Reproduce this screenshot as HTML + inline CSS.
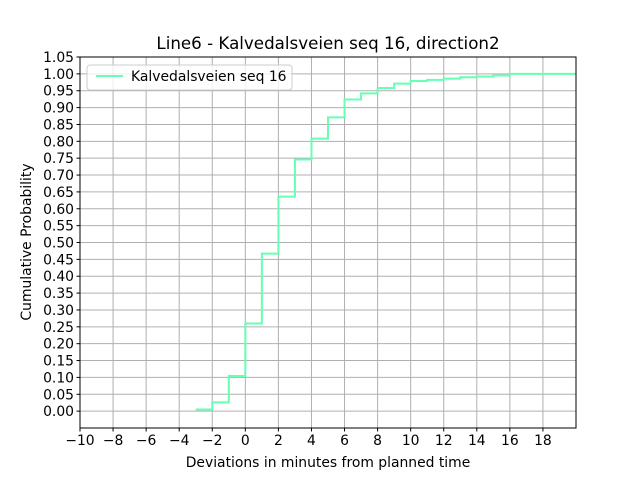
<!DOCTYPE html>
<html><head><meta charset="utf-8"><style>
body{margin:0;background:#fff;font-family:"Liberation Sans","DejaVu Sans",sans-serif;}
</style></head><body>
<svg width="640" height="480" xmlns="http://www.w3.org/2000/svg" font-family="DejaVu Sans, Liberation Sans, sans-serif">
<rect width="640" height="480" fill="#fff"/>
<g id="grid"></g>
<g id="ticks" font-size="13.9" fill="#000"></g>
<path id="line" fill="none" stroke="#66ffb3" stroke-width="2"/>
<rect x="80" y="57" width="496" height="371" fill="none" stroke="#000" stroke-width="1"/>
<text x="328" y="49" text-anchor="middle" font-size="16.7">Line6 - Kalvedalsveien seq 16, direction2</text>
<text x="328" y="467" text-anchor="middle" font-size="13.9">Deviations in minutes from planned time</text>
<text transform="translate(31,242) rotate(-90)" text-anchor="middle" font-size="13.9">Cumulative Probability</text>
<g>
<rect x="87" y="65" width="205" height="25" rx="3" fill="#fff" fill-opacity="0.8" stroke="#ccc"/>
<line x1="96" y1="76" x2="123" y2="76" stroke="#66ffb3" stroke-width="2"/>
<text x="131" y="81" font-size="13.9">Kalvedalsveien seq 16</text>
</g>
</svg>
<script>
const xs=[-3,-2,-1,0,1,2,3,4,5,6,7,8,9,10,11,12,13,14,15,16];
const ys=[0.005,0.026,0.104,0.26,0.467,0.636,0.746,0.808,0.871,0.924,0.942,0.958,0.971,0.979,0.982,0.986,0.99,0.992,0.995,1.0];
const xTicks=[-10,-8,-6,-4,-2,0,2,4,6,8,10,12,14,16,18];
const yTicks=[0,0.05,0.1,0.15,0.2,0.25,0.3,0.35,0.4,0.45,0.5,0.55,0.6,0.65,0.7,0.75,0.8,0.85,0.9,0.95,1.0,1.05];
const xMin=-10,xMax=20,yMin=-0.05,yMax=1.05,L=80,R=576,T=57,B=428;
const X=v=>L+(v-xMin)/(xMax-xMin)*(R-L);
const Y=v=>B-(v-yMin)/(yMax-yMin)*(B-T);
const NS="http://www.w3.org/2000/svg";
const g=document.getElementById('grid'),tk=document.getElementById('ticks');
function mk(p,t,a){const e=document.createElementNS(NS,t);for(const k in a)e.setAttribute(k,a[k]);p.appendChild(e);return e;}
xTicks.forEach(v=>{const x=X(v);
const gl=mk(g,'line',{x1:x,x2:x,y1:T,y2:B,stroke:'#b0b0b0','stroke-width':1});


mk(tk,'line',{x1:x,x2:x,y1:B,y2:B+3.5,stroke:'#000'});
const t=mk(tk,'text',{x:x,y:B+17,'text-anchor':'middle'});t.textContent=(v<0?'\u2212'+(-v):v);

});
yTicks.forEach(v=>{const y=Y(v);
const gl=mk(g,'line',{x1:L,x2:R,y1:y,y2:y,stroke:'#b0b0b0','stroke-width':1});


mk(tk,'line',{x1:L-3.5,x2:L,y1:y,y2:y,stroke:'#000'});
const t=mk(tk,'text',{x:L-6,y:y+5,'text-anchor':'end'});t.textContent=v.toFixed(2);

});
let d='';
for(let i=0;i<xs.length;i++){const x0=X(xs[i]),x1=i+1<xs.length?X(xs[i+1]):X(xMax);
d+=(i?'L':'M')+x0+' '+Y(ys[i])+' L'+x1+' '+Y(ys[i])+' ';}
document.getElementById('line').setAttribute('d',d);
</script>
</body></html>
